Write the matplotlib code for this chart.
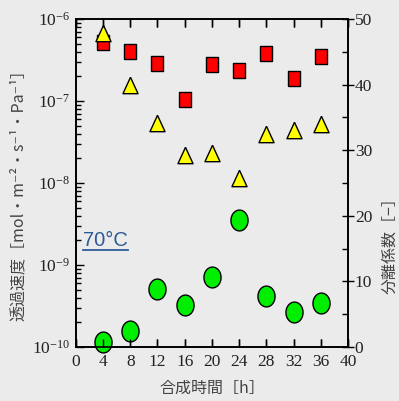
import matplotlib
matplotlib.use('Agg')
import matplotlib.pyplot as plt
import numpy as np
from matplotlib.ticker import FixedLocator, FixedFormatter, LogLocator, NullFormatter
from matplotlib.lines import Line2D

# ---- data ----
time_h = [4, 8, 12, 16, 20, 24, 28, 32, 36]
permeance = [5.3e-7, 4.1e-7, 2.9e-7, 1.07e-7, 2.8e-7, 2.37e-7, 3.8e-7, 1.9e-7, 3.5e-7]
separation_tri = [47.9, 40.0, 34.2, 29.3, 29.5, 25.8, 32.5, 33.1, 34.0]
separation_circ = [0.7, 2.5, 8.9, 6.4, 10.6, 19.3, 7.7, 5.3, 6.7]
x_ticks = [0, 4, 8, 12, 16, 20, 24, 28, 32, 36, 40]
x_tick_labels = ['0', '4', '8', '12', '16', '20', '24', '28', '32', '36', '40']
left_ticks = [1e-10, 1e-9, 1e-8, 1e-7, 1e-6]
left_tick_labels = [r'$\mathregular{10^{-10}}$', r'$\mathregular{10^{-9}}$',
                    r'$\mathregular{10^{-8}}$', r'$\mathregular{10^{-7}}$',
                    r'$\mathregular{10^{-6}}$']
right_ticks = [0, 10, 20, 30, 40, 50]
right_minor = [5, 15, 25, 35, 45]
right_tick_labels = ['0', '10', '20', '30', '40', '50']

plt.rcParams['font.family'] = ['Liberation Serif', 'DejaVu Sans']
plt.rcParams['mathtext.fontset'] = 'custom'
plt.rcParams['mathtext.rm'] = 'Liberation Serif'
plt.rcParams['axes.axisbelow'] = False

BG = '#ebebeb'
TXT = '#222222'
LBL = '#444444'
cjk = ['Noto Sans CJK JP', 'DejaVu Sans']

fig = plt.figure(figsize=(3.99, 4.01), dpi=100, facecolor=BG)
ax = fig.add_axes([0.19, 0.1347, 0.682, 0.818])
ax.set_facecolor(BG)
ax2 = ax.twinx()

# marker shapes (slightly tall, as in reference)
t = np.linspace(0, 2 * np.pi, 80)
ellipse = list(zip(0.82 * np.cos(t), np.sin(t)))
rect = [(-0.79, -1), (0.79, -1), (0.79, 1), (-0.79, 1), (-0.79, -1)]
tri = [(0, 1), (-0.92, -1), (0.92, -1), (0, 1)]

ax.plot(time_h, permeance, linestyle='none', marker=rect, ms=10.8,
        mfc='#ff0000', mec='black', mew=1.0, clip_on=False, zorder=2)
ax2.plot(time_h, separation_circ, linestyle='none', marker=ellipse, ms=15,
         mfc='#00ee00', mec='black', mew=1.0, clip_on=False, zorder=2)
ax2.plot(time_h, separation_tri, linestyle='none', marker=tri, ms=11.8,
         mfc='#ffff00', mec='black', mew=1.0, clip_on=False, zorder=2)

# x axis
ax.set_xlim(0, 40)
ax.xaxis.set_major_locator(FixedLocator(x_ticks))
ax.xaxis.set_major_formatter(FixedFormatter(x_tick_labels))
ax.tick_params(axis='x', which='major', direction='in', length=6, width=1,
               top=True, labelsize=12.5, pad=5, labelcolor=TXT)

# left log axis
ax.set_yscale('log')
ax.set_ylim(1e-10, 1e-6)
ax.yaxis.set_major_locator(FixedLocator(left_ticks))
ax.yaxis.set_major_formatter(FixedFormatter(left_tick_labels))
ax.yaxis.set_minor_locator(LogLocator(base=10, subs=np.arange(2, 10)))
ax.yaxis.set_minor_formatter(NullFormatter())
ax.tick_params(axis='y', which='major', direction='in', length=6, width=1,
               labelsize=12.5, pad=4, labelcolor=TXT)
ax.tick_params(axis='y', which='minor', direction='in', length=3.5, width=1)

# right linear axis
ax2.set_ylim(0, 50)
ax2.yaxis.set_major_locator(FixedLocator(right_ticks))
ax2.yaxis.set_major_formatter(FixedFormatter(right_tick_labels))
ax2.yaxis.set_minor_locator(FixedLocator(right_minor))
ax2.tick_params(axis='y', which='major', direction='inout', length=8, width=1,
                labelsize=12.5, pad=1, labelcolor=TXT)
ax2.tick_params(axis='y', which='minor', direction='in', length=4, width=1)
# draw bottom/top x ticks above markers as well
ax2.xaxis.set_visible(True)
ax2.tick_params(axis='x', which='major', direction='in', length=6, width=1,
                bottom=True, top=True, labelbottom=False, labeltop=False)

for a in (ax, ax2):
    for s in a.spines.values():
        s.set_linewidth(1.2)
        s.set_color('black')

# labels
ax.set_xlabel('合成時間［h］', family=cjk, fontsize=11.5, color=LBL)
ax.xaxis.set_label_coords(0.5, -0.1)
ax.set_ylabel('透過速度［mol・m⁻²・s⁻¹・Pa⁻¹］', family=cjk, fontsize=11.5, color=LBL,
              ha='center', va='center')
ax.yaxis.set_label_coords(-0.213, 0.476)
ax2.set_ylabel('分離係数［−］', family=cjk, fontsize=11.5, color=LBL, rotation=90,
               ha='center', va='center')
ax2.yaxis.set_label_coords(1.154, 0.32)

# annotation
ax.text(0.027, 0.308, '70°C', transform=ax.transAxes, family=['Liberation Sans', 'DejaVu Sans'],
        fontsize=14.5, color='#2d5a96', ha='left', va='baseline')
ax.add_line(Line2D([0.027, 0.19], [0.296, 0.296], transform=ax.transAxes,
                   color='#2d5a96', lw=1.3))

fig.savefig('out.png', dpi=100, facecolor=BG)
